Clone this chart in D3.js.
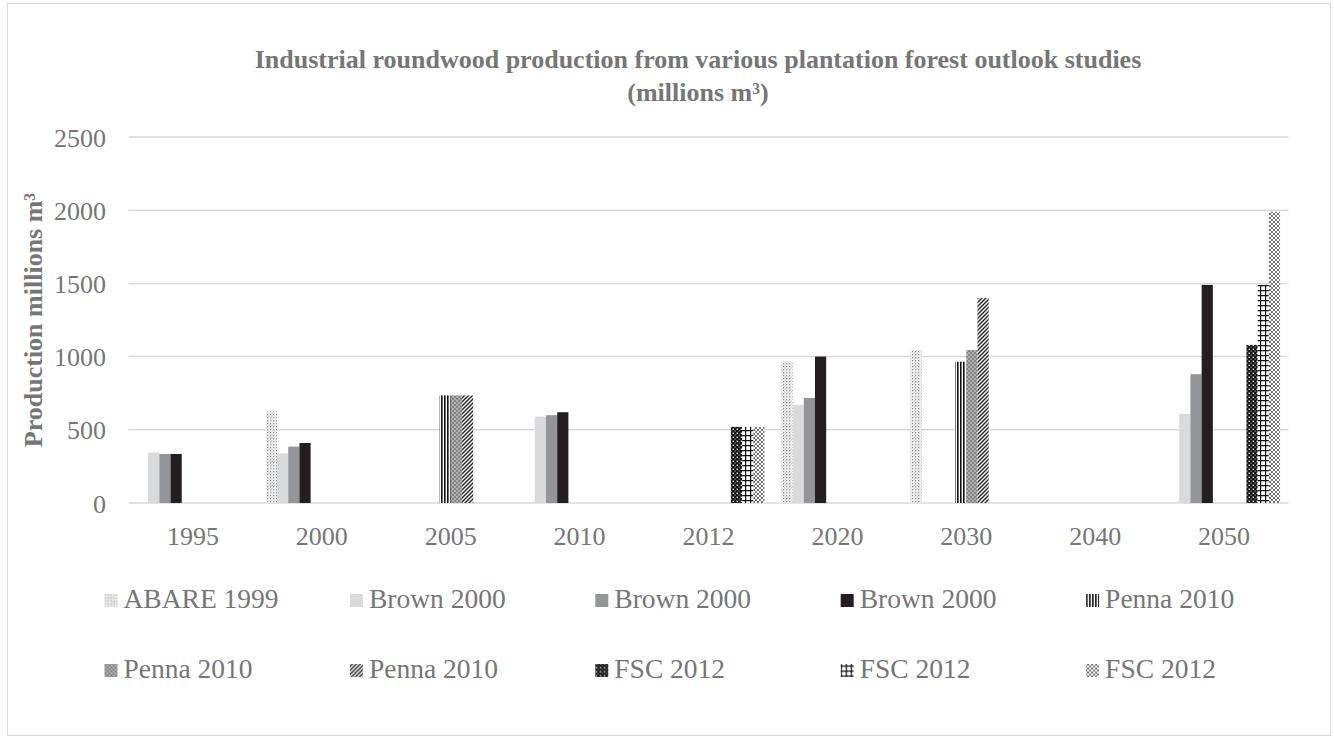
<!DOCTYPE html>
<html>
<head>
<meta charset="utf-8">
<script src="https://cdn.jsdelivr.net/npm/d3@7"></script>
<style>
  html, body { margin: 0; padding: 0; background: #ffffff; }
  svg { display: block; }
  text { font-family: "Liberation Serif", "Times New Roman", serif; }
</style>
</head>
<body>
<svg id="chart" width="1334" height="739"></svg>
<script>
// ---------------- DATA ----------------
const categories = ["1995", "2000", "2005", "2010", "2012", "2020", "2030", "2040", "2050"];
const seriesNames = ["ABARE 1999", "Brown 2000", "Brown 2000", "Brown 2000", "Penna 2010",
                     "Penna 2010", "Penna 2010", "FSC 2012", "FSC 2012", "FSC 2012"];
const abare1999   = [null, 625, null, null, null, 970, 1045, null, null];
const brown2000a  = [345, 340, null, 590, null, 670, null, null, 608];
const brown2000b  = [335, 385, null, 600, null, 718, null, null, 880];
const brown2000c  = [335, 410, null, 620, null, 1000, null, null, 1490];
const penna2010a  = [null, null, 735, null, null, null, 965, null, null];
const penna2010b  = [null, null, 735, null, null, null, 1045, null, null];
const penna2010c  = [null, null, 735, null, null, null, 1400, null, null];
const fsc2012a    = [null, null, null, null, 520, null, null, null, 1080];
const fsc2012b    = [null, null, null, null, 520, null, null, null, 1490];
const fsc2012c    = [null, null, null, null, 520, null, null, null, 1990];
const yTicks = [0, 500, 1000, 1500, 2000, 2500];
const titleLines = ["Industrial roundwood production from various plantation forest outlook studies", "(millions m³)"];
const yTitle = "Production millions m³";

const seriesValues = [abare1999, brown2000a, brown2000b, brown2000c, penna2010a,
                      penna2010b, penna2010c, fsc2012a, fsc2012b, fsc2012c];

// ---------------- LAYOUT ----------------
const plot = { left: 128.5, right: 1288.5, top: 137, bottom: 503 };
const textColor = "#767676";
const gridColor = "#d9d9d9";
const fontSize = 26;
const legendFont = 27.5;

const svg = d3.select("#chart");

// ---------- patterns ----------
const defs = svg.append("defs");
function pat(id, w, h, build) {
  const p = defs.append("pattern").attr("id", id).attr("patternUnits", "userSpaceOnUse")
    .attr("width", w).attr("height", h);
  build(p);
  return "url(#" + id + ")";
}
const fills = [];
fills.push(pat("p0", 3, 3, p => {
  p.append("rect").attr("width", 3).attr("height", 3).attr("fill", "#ffffff");
  p.append("rect").attr("x", 0).attr("y", 0).attr("width", 1.3).attr("height", 1.3).attr("fill", "#8a8a8a");
  p.append("rect").attr("x", 1.5).attr("y", 1.5).attr("width", 1.1).attr("height", 1.1).attr("fill", "#b0b0b0");
}));
fills.push("#d9dadb");
fills.push("#939598");
fills.push("#231f20");
fills.push(pat("p4", 3, 3, p => {
  p.append("rect").attr("width", 3).attr("height", 3).attr("fill", "#ffffff");
  p.append("rect").attr("x", 0).attr("y", 0).attr("width", 1.6).attr("height", 3).attr("fill", "#111111");
}));
fills.push(pat("p5", 4, 4, p => {
  p.append("rect").attr("width", 4).attr("height", 4).attr("fill", "#858585");
  p.append("circle").attr("cx", 1).attr("cy", 1).attr("r", 0.8).attr("fill", "#e6e6e6");
  p.append("circle").attr("cx", 3).attr("cy", 3).attr("r", 0.8).attr("fill", "#e6e6e6");
}));
fills.push(pat("p6", 4, 4, p => {
  p.append("rect").attr("width", 4).attr("height", 4).attr("fill", "#ffffff");
  p.append("path").attr("d", "M-1,1 l2,-2 M0,4 l4,-4 M3,5 l2,-2")
    .attr("stroke", "#222222").attr("stroke-width", 1.4);
}));
fills.push(pat("p7", 4, 4, p => {
  p.append("rect").attr("width", 4).attr("height", 4).attr("fill", "#111111");
  p.append("rect").attr("x", 0.6).attr("y", 0.6).attr("width", 1.4).attr("height", 1.4).attr("fill", "#ffffff");
  p.append("rect").attr("x", 2.6).attr("y", 2.6).attr("width", 1.0).attr("height", 1.0).attr("fill", "#dddddd");
}));
fills.push(pat("p8", 5, 5, p => {
  p.append("rect").attr("width", 5).attr("height", 5).attr("fill", "#ffffff");
  p.append("path").attr("d", "M0.6,0 V5 M0,0.6 H5").attr("stroke", "#111111").attr("stroke-width", 1.2);
}));
fills.push(pat("p9", 4, 4, p => {
  p.append("rect").attr("width", 4).attr("height", 4).attr("fill", "#ffffff");
  p.append("path").attr("d", "M0,0 L4,4 M4,0 L0,4").attr("stroke", "#6e6e6e").attr("stroke-width", 0.9);
  p.append("circle").attr("cx", 2).attr("cy", 2).attr("r", 0.6).attr("fill", "#444");
}));

// ---------- outer border ----------
svg.append("rect").attr("x", 7.5).attr("y", 3.5).attr("width", 1323).attr("height", 732)
  .attr("fill", "#ffffff").attr("stroke", gridColor).attr("stroke-width", 1);

// ---------- scales ----------
const x = d3.scaleBand().domain(categories).range([plot.left, plot.right]).paddingInner(0).paddingOuter(0);
const y = d3.scaleLinear().domain([0, 2500]).range([plot.bottom, plot.top]);
const gapRatio = 1.5;
const barW = x.bandwidth() / (seriesNames.length + gapRatio);
const xs = d3.scaleBand().domain(d3.range(seriesNames.length))
  .range([barW * gapRatio / 2, x.bandwidth() - barW * gapRatio / 2]).padding(0);

// ---------- gridlines ----------
svg.append("g").selectAll("line").data(yTicks).join("line")
  .attr("x1", plot.left).attr("x2", plot.right)
  .attr("y1", d => y(d)).attr("y2", d => y(d))
  .attr("stroke", gridColor).attr("stroke-width", 1.5);

// ---------- y axis labels ----------
const yAxis = d3.axisLeft(y).tickValues(yTicks).tickSize(0).tickPadding(0).tickFormat(d3.format("d"));
const gy = svg.append("g").attr("transform", `translate(${106},0)`).call(yAxis);
gy.select(".domain").remove();
gy.selectAll("text").attr("font-size", fontSize).attr("fill", textColor)
  .attr("font-family", "Liberation Serif").attr("dy", "0.35em");

// ---------- x axis labels ----------
const xAxis = d3.axisBottom(x).tickSize(0).tickPadding(0);
const gx = svg.append("g").attr("transform", `translate(0,${plot.bottom})`).call(xAxis);
gx.select(".domain").remove();
gx.selectAll("text").attr("font-size", fontSize).attr("fill", textColor)
  .attr("font-family", "Liberation Serif").attr("y", 42).attr("dy", "0");

// ---------- bars ----------
const barData = [];
seriesValues.forEach((vals, si) => {
  vals.forEach((v, ci) => {
    if (v !== null) barData.push({ si, cat: categories[ci], v });
  });
});
svg.append("g").selectAll("rect").data(barData).join("rect")
  .attr("x", d => x(d.cat) + xs(d.si))
  .attr("width", xs.bandwidth())
  .attr("y", d => y(d.v))
  .attr("height", d => y(0) - y(d.v))
  .attr("fill", d => fills[d.si]);

// ---------- title ----------
const title = svg.append("text").attr("text-anchor", "middle").attr("font-weight", "bold")
  .attr("font-size", fontSize).attr("fill", textColor);
title.selectAll("tspan").data(titleLines).join("tspan")
  .attr("x", 698).attr("y", (d, i) => 68 + i * 33).text(d => d);

// ---------- y title ----------
svg.append("text").attr("transform", `translate(42,${(plot.top + plot.bottom) / 2}) rotate(-90)`)
  .attr("text-anchor", "middle").attr("font-weight", "bold").attr("font-size", fontSize)
  .attr("fill", textColor).text(yTitle);

// ---------- legend ----------
const legendX0 = 104.5, legendStep = 245.4;
const legendRows = [600.5, 670.5];
const lg = svg.append("g").selectAll("g").data(seriesNames).join("g")
  .attr("transform", (d, i) => `translate(${legendX0 + (i % 5) * legendStep},${legendRows[Math.floor(i / 5)]})`);
lg.append("rect").attr("x", 0).attr("y", -6.5).attr("width", 13).attr("height", 13)
  .attr("fill", (d, i) => fills[i]);
lg.append("text").attr("x", 19).attr("y", 7.5)
  .attr("font-size", legendFont).attr("fill", textColor).text(d => d);
</script>
</body>
</html>
